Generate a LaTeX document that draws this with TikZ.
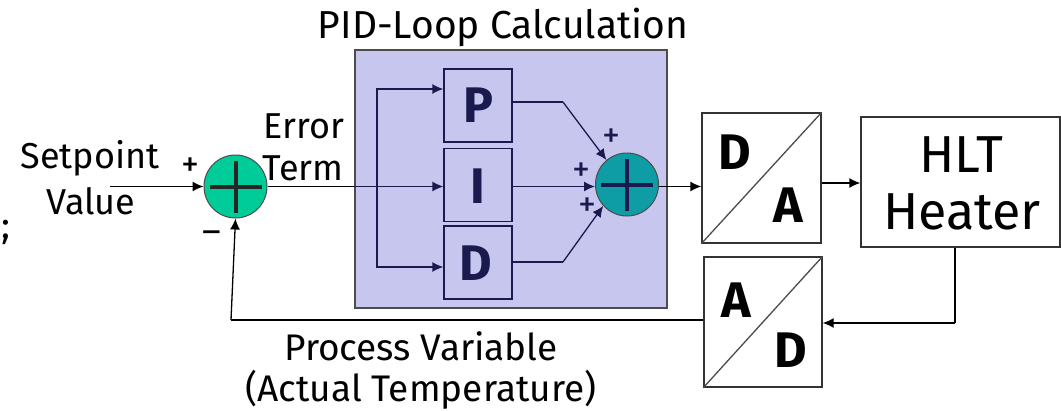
\documentclass[tikz,border=0pt]{standalone}
\usepackage{fontspec}
\setmainfont{Fira Sans}
\usetikzlibrary{arrows.meta}
\definecolor{panelfill}{HTML}{C6C6EE}
\definecolor{panelink}{HTML}{1A1A4E}
\definecolor{sumgreen}{HTML}{00CC99}
\definecolor{sumteal}{HTML}{0E9DA5}
\tikzset{
  blockbox/.style={draw=black!80,line width=1.3pt,fill=white,inner sep=0pt},
  termbox/.style={draw=panelink,line width=1.3pt,inner sep=0pt,minimum width=68pt,minimum height=73pt},
  sumnode/.style={circle,draw=black!70,line width=1pt,minimum size=63pt,inner sep=0pt},
  caption/.style={inner sep=0pt,align=center,font=\fontsize{37}{37}\selectfont},
  bigcaption/.style={inner sep=0pt,font=\fontsize{52}{52}\selectfont},
  letter/.style={inner sep=0pt,font=\fontsize{50}{50}\selectfont\bfseries},
  sign/.style={inner sep=0pt,font=\fontsize{36}{36}\selectfont}
}
\begin{document}
\begin{tikzpicture}[x=1pt,y=-1pt,>={Latex[length=11pt,width=10pt]},line width=1.3pt]
   \useasboundingbox (0,0) rectangle (1061,410);

   % calculation panel
   \node[draw=black!70,line width=1.5pt,fill=panelfill,minimum width=312pt,minimum height=258pt,inner sep=0pt] (panel) at (511,179) {};
   \node[termbox] (boxP) at (478,105.5) {};
   \node[termbox] (boxI) at (478,185) {};
   \node[termbox] (boxD) at (478,262.5) {};
   \node[letter,text=panelink] (letP) at (478,105) {P};
   \node[letter,text=panelink] (letI) at (478,186) {I};
   \node[letter,text=panelink] (letD) at (476,263) {D};

   % summing junctions
   \node[sumnode,fill=sumgreen] (sumIn) at (235.5,186.5) {};
   \node[sumnode,fill=sumteal] (sumOut) at (627,184.5) {};
   \draw[line width=4pt,black!85] (sumIn.center) ++(-26,0) -- ++(52,0) (sumIn.center) ++(0,-26) -- ++(0,52);
   \draw[line width=4pt,panelink] (sumOut.center) ++(-26,0) -- ++(52,0) (sumOut.center) ++(0,-26) -- ++(0,52);

   % converters and heater
   \node[blockbox,minimum width=119pt,minimum height=130pt] (dac) at (761.5,178) {};
   \node[blockbox,minimum width=118pt,minimum height=130pt] (adc) at (763,322) {};
   \node[blockbox,minimum width=199pt,minimum height=130pt] (heater) at (960.5,182) {};
   \draw[black!70] (dac.south west) -- (dac.north east);
   \draw[black!70] (adc.south west) -- (adc.north east);
   \node[letter] (dacD) at (735,152) {D};
   \node[letter] (dacA) at (788,205) {A};
   \node[letter] (adcA) at (736,300) {A};
   \node[letter] (adcD) at (791,350) {D};
   \node[bigcaption] (heatA) at (961,155) {HLT};
   \node[bigcaption] (heatB) at (962,212) {Heater};

   % free ends and corners
   \coordinate (start) at (110,186.5);
   \coordinate (split) at (377,186.5);
   \coordinate (bendP) at (563,102);
   \coordinate (bendD) at (563,262);
   \coordinate (backH) at (955,323);
   \coordinate (backA) at (231,320);

   % signal path
   \draw[->] (start) -- (sumIn.west);
   \draw (sumIn.east) -- (panel.west |- sumIn.east);
   \draw[->,panelink] (panel.west |- sumIn.east) -- (boxI.west |- sumIn.east);
   \draw[->,panelink] (split) |- (boxP.west |- 0,89);
   \draw[->,panelink] (split) |- (boxD.west |- 0,267);
   \draw[panelink] (boxP.east |- bendP) -- (bendP);
   \draw[->,panelink] (bendP) -- (sumOut.130);
   \draw[->,panelink] (boxI.east |- sumIn.east) -- (sumOut.west |- sumIn.east);
   \draw[panelink] (boxD.east |- bendD) -- (bendD);
   \draw[->,panelink] (bendD) -- (sumOut.222);
   \draw[->] (sumOut.east |- sumIn.east) -- (dac.west |- sumIn.east);
   \draw[->] (dac.east |- 0,183) -- (heater.west |- 0,183);
   \draw (heater.south -| backH) -- (backH);
   \draw[->] (backH) -- (adc.east |- backH);
   \draw (adc.west |- backA) -- (backA);
   \draw[->] (backA) -- (sumIn.south);

   % labels
   \node[caption,font=\fontsize{39}{39}\selectfont] (title) at (503,27) {PID-Loop Calculation};
   \node[caption,font=\fontsize{36}{36}\selectfont] (setA) at (90,158) {Setpoint};
   \node[caption,font=\fontsize{36}{36}\selectfont] (setB) at (91,201) {Value};
   \node[caption,font=\fontsize{36}{36}\selectfont] (errA) at (304,126) {Error};
   \node[caption,font=\fontsize{36}{36}\selectfont] (errB) at (303,168) {Term};
   \node[caption] (procA) at (421,346) {Process Variable};
   \node[caption] (procB) at (421,390) {(Actual Temperature)};
   \node[caption] (stray) at (6,232) {;};
   \node[sign] (plusIn) at (190,167) {+};
   \node[sign] (minusIn) at (212,237) {–};
   \node[sign,text=panelink] (plusP) at (611,138) {+};
   \node[sign,text=panelink] (plusI) at (581,172) {+};
   \node[sign,text=panelink] (plusD) at (587,207) {+};
\end{tikzpicture}
\end{document}
